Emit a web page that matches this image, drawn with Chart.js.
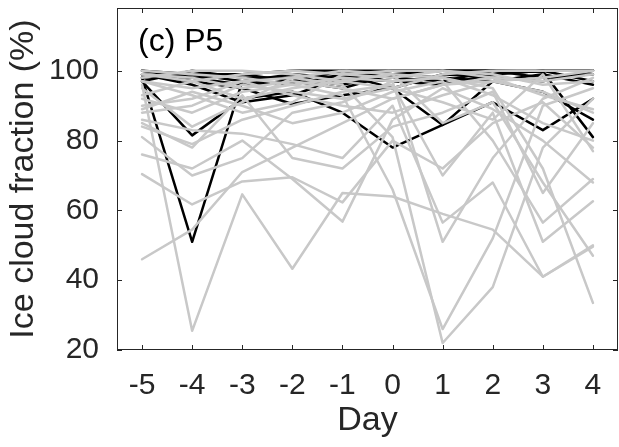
<!DOCTYPE html>
<html>
<head>
<meta charset="utf-8">
<script src="https://cdn.jsdelivr.net/npm/chart.js@4/dist/chart.umd.min.js"></script>
<style>
  html, body { margin: 0; padding: 0; background: #fff; }
  #wrap { width: 619px; height: 447px; }
</style>
</head>
<body>
<div id="wrap"><canvas id="line-chart" width="619" height="447"></canvas></div>
<script>
// days relative to event
var days = [-5, -4, -3, -2, -1, 0, 1, 2, 3, 4];
var xTicks = [-5, -4, -3, -2, -1, 0, 1, 2, 3, 4];
var yTicks = [20, 40, 60, 80, 100];

// grey cases
var g1 = [96, 25.5, 64.6, 43.3, 65, 64, 59, 54.5, 41, 50];
var g2 = [46, 54.5, 71, 78, 85, 92, 96, 98, 97, 99];
var g3 = [70.4, 61.7, 68.3, 69.5, 62.3, 80, 72, 85, 91, 78];
var g4 = [76, 72, 80, 69, 56.8, 86, 95, 89, 80, 68];
var g5 = [92, 88, 94, 96, 93, 66, 26, 52, 90, 95];
var g6 = [97, 95, 97, 98, 96, 81, 22, 38, 78, 92];
var g7 = [84, 79, 86, 90, 94, 96, 70, 88, 51, 62.6];
var g8 = [89, 94, 90, 85, 88, 94, 97, 80, 56.5, 69];
var g9 = [81, 70, 75, 88, 91, 97, 98, 95, 72, 33.5];
var g10 = [99, 97, 92, 95, 97, 99, 85, 91, 68, 47];
var g11 = [86, 83, 82, 79, 75, 90, 56.5, 68, 41, 49.6];
var g12 = [100, 99, 98, 96, 98, 97, 51, 75, 92, 98];
var g13 = [90, 92, 97, 93, 90, 88, 93, 97, 94, 88];
var g14 = [98, 100, 100, 99, 97, 95, 99, 100, 100, 100];
var g15 = [95, 84, 91, 98, 100, 99, 98, 93, 85, 80];
var g16 = [93, 97, 99, 100, 99, 100, 100, 99, 96, 97];
var g17 = [99, 98, 95, 97, 95, 92, 96, 97, 98, 100];
var g18 = [88, 90, 96, 94, 92, 95, 91, 86, 99, 77];
var g19 = [97, 93, 88, 91, 99, 98, 100, 98, 93, 89];
var g20 = [85, 78, 93, 75, 72, 84, 88, 94, 65, 85];

// black cases
var k1 = [98, 51, 97, 99, 98, 100, 100, 99, 100, 100];
var k2 = [97, 81.5, 92, 94, 88, 78, 84.5, 91, 83, 92];
var k3 = [99, 97, 95, 90.5, 93, 95, 84.5, 97, 94, 86];
var k4 = [100, 98, 96, 97, 95, 99, 100, 100, 99.7, 81];
var k5 = [99, 96, 91, 93, 98, 97, 96, 99, 100, 97];
var k6 = [100, 99, 99, 100, 100, 100, 100, 100, 100, 100];
var k7 = [98, 99, 97, 96, 99, 95, 99, 98, 97, 100];
var k8 = [97, 100, 98, 98, 96, 99, 98, 97, 99, 96];
var k9 = [99, 98, 99, 97, 100, 98, 97, 100, 98, 99];

var greyCases = [g1, g2, g3, g4, g5, g6, g7, g8, g9, g10, g11, g12, g13, g14, g15, g16, g17, g18, g19, g20];
var blackCases = [k1, k2, k3, k4, k5, k6, k7, k8, k9];

var ink = '#262626';
var font = '"Liberation Sans", Arial, Helvetica, sans-serif';

function toPoints(vals) {
    return days.map(function(d, i) { return { x: d, y: vals[i] }; });
}

var datasets = [];
greyCases.forEach(function(v) {
    datasets.push({ data: toPoints(v), borderColor: '#c8c8c8', borderWidth: 2.5 });
});
blackCases.forEach(function(v) {
    datasets.push({ data: toPoints(v), borderColor: '#000000', borderWidth: 2.5 });
});

// box, inward ticks and panel label
var framePlugin = {
    id: 'frame',
    afterDraw: function(chart) {
        var ctx = chart.ctx, a = chart.chartArea;
        var xs = chart.scales.x, ys = chart.scales.y;
        var len = 5;
        ctx.save();
        ctx.strokeStyle = ink;
        ctx.lineWidth = 1;
        ctx.strokeRect(a.left + 0.5, a.top + 0.5, a.right - a.left - 1, a.bottom - a.top - 1);
        ctx.beginPath();
        xTicks.forEach(function(v) {
            var px = Math.round(xs.getPixelForValue(v)) + 0.5;
            ctx.moveTo(px, a.bottom); ctx.lineTo(px, a.bottom - len);
            ctx.moveTo(px, a.top); ctx.lineTo(px, a.top + len);
        });
        yTicks.forEach(function(v) {
            var py = Math.round(ys.getPixelForValue(v)) + 0.5;
            ctx.moveTo(a.left, py); ctx.lineTo(a.left + len, py);
            ctx.moveTo(a.right, py); ctx.lineTo(a.right - len, py);
        });
        ctx.stroke();
        ctx.fillStyle = '#000';
        ctx.font = '32px ' + font;
        ctx.textBaseline = 'alphabetic';
        ctx.fillText('(c) P5', a.left + 21, a.top + 43);
        ctx.restore();
    }
};

function noPad(s) {
    s.paddingTop = 0; s.paddingBottom = 0; s.paddingLeft = 0; s.paddingRight = 0;
}

var ctx = document.getElementById('line-chart').getContext('2d');
var lineChart = new Chart(ctx, {
    type: 'line',
    data: { datasets: datasets },
    options: {
        responsive: false,
        animation: false,
        events: [],
        layout: { padding: { top: 8, right: 1, left: 0, bottom: 0 } },
        elements: { point: { radius: 0 }, line: { tension: 0, borderCapStyle: 'round', borderJoinStyle: 'round' } },
        plugins: { legend: { display: false }, tooltip: { enabled: false } },
        scales: {
            x: {
                type: 'linear',
                min: -5.5,
                max: 4.5,
                afterBuildTicks: function(s) { s.ticks = xTicks.map(function(v) { return { value: v }; }); },
                afterFit: function(s) { s.height = 97; noPad(s); },
                grid: { display: false },
                border: { display: false },
                ticks: { color: ink, font: { family: font, size: 30 }, padding: 10, maxRotation: 0 },
                title: { display: true, text: 'Day', color: ink, font: { family: font, size: 34 }, padding: { top: 0, bottom: 6 } }
            },
            y: {
                min: 20,
                max: 118,
                afterBuildTicks: function(s) { s.ticks = yTicks.map(function(v) { return { value: v }; }); },
                afterFit: function(s) { s.width = 117; noPad(s); },
                grid: { display: false },
                border: { display: false },
                ticks: { color: ink, font: { family: font, size: 30 }, padding: 10 },
                title: { display: true, text: 'Ice cloud fraction (%)', color: ink, font: { family: font, size: 34 }, padding: { top: 3, bottom: 0 } }
            }
        }
    },
    plugins: [framePlugin]
});
</script>
</body>
</html>
